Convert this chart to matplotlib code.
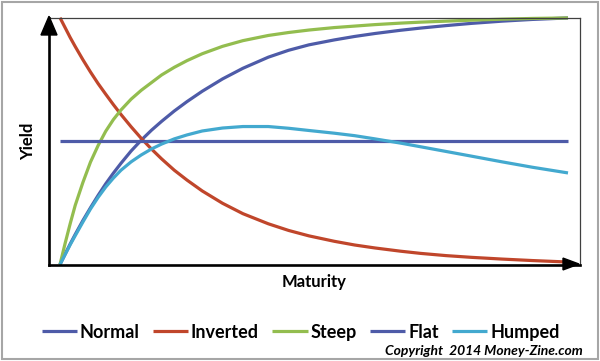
import matplotlib.pyplot as plt
from matplotlib.patches import Polygon, Rectangle

# maturity (arbitrary units) and yield values
maturity = [0, 0.1, 0.2, 0.3, 0.45, 0.6, 0.75, 0.9, 1.05, 1.2, 1.4, 1.6, 1.8, 2.0, 2.25, 2.5,
            2.8, 3.2, 3.6, 4.1, 4.5, 4.9, 5.4, 5.8, 6.2, 6.7, 7.1, 7.6, 8.1, 8.7, 9.3, 10]
normal   = [0, 0.42, 0.83, 1.22, 1.78, 2.30, 2.80, 3.27, 3.70, 4.10, 4.60, 5.04, 5.44, 5.80, 6.22, 6.60,
            7.02, 7.52, 7.95, 8.40, 8.68, 8.90, 9.10, 9.24, 9.36, 9.49, 9.58, 9.68, 9.77, 9.86, 9.93, 9.99]
inverted = [10.0, 9.60, 9.20, 8.83, 8.30, 7.80, 7.33, 6.90, 6.48, 6.08, 5.58, 5.11, 4.68, 4.28, 3.82, 3.42,
            2.98, 2.48, 2.06, 1.65, 1.38, 1.16, 0.94, 0.79, 0.67, 0.54, 0.45, 0.36, 0.29, 0.22, 0.16, 0.10]
steep    = [0, 0.85, 1.65, 2.40, 3.32, 4.15, 4.82, 5.40, 5.87, 6.26, 6.70, 7.06, 7.37, 7.68, 7.99, 8.26,
            8.54, 8.84, 9.07, 9.28, 9.40, 9.50, 9.60, 9.66, 9.72, 9.78, 9.82, 9.86, 9.90, 9.94, 9.97, 9.99]
flat     = [5.0] * len(maturity)
humped   = [0, 0.40, 0.80, 1.17, 1.72, 2.25, 2.72, 3.14, 3.50, 3.82, 4.16, 4.44, 4.68, 4.88, 5.09, 5.25,
            5.41, 5.53, 5.59, 5.59, 5.52, 5.43, 5.32, 5.22, 5.09, 4.92, 4.77, 4.58, 4.39, 4.16, 3.94, 3.71]

series = [
    ("Normal", normal, "#4E5BA8"),
    ("Inverted", inverted, "#C0462B"),
    ("Steep", steep, "#93BD4F"),
    ("Flat", flat, "#4E5BA8"),
    ("Humped", humped, "#43A9CF"),
]

plt.rcParams["font.family"] = ["Lato", "DejaVu Sans"]

fig = plt.figure(figsize=(6, 3.61), dpi=100)
fig.patches.append(Rectangle((0.004, 0.005), 0.992, 0.99, transform=fig.transFigure,
                             fill=False, edgecolor="#A6A6A6", linewidth=1.5))

ax = fig.add_axes([49 / 600, 96.5 / 361, 531 / 600, 246.8 / 361])
for name, vals, col in series:
    ax.plot(maturity, vals, color=col, linewidth=2.3, label=name, clip_on=False,
            solid_capstyle="butt", solid_joinstyle="round")

ax.set_xlim(-0.2165, 10.236)
ax.set_ylim(0, 10)
ax.set_xticks([])
ax.set_yticks([])

ax.spines["left"].set_linewidth(1.9)
ax.spines["bottom"].set_linewidth(1.9)
ax.spines["left"].set_color("black")
ax.spines["bottom"].set_color("black")
ax.spines["top"].set_linewidth(0.9)
ax.spines["right"].set_linewidth(0.9)
ax.spines["top"].set_color("#404040")
ax.spines["right"].set_color("#404040")

# arrow heads on the axes
ax.add_patch(Polygon([[0, 1.006], [-0.0151, 0.93], [0.0151, 0.93]], closed=True,
                     transform=ax.transAxes, color="black", clip_on=False, zorder=5))
ax.add_patch(Polygon([[0.998, 0.002], [0.968, 0.026], [0.968, -0.022]], closed=True,
                     transform=ax.transAxes, color="black", clip_on=False, zorder=5))

ax.set_xlabel("Maturity", fontsize=12, fontweight="bold", labelpad=7)
ax.set_ylabel("Yield", fontsize=12, fontweight="bold", labelpad=9)

fig.legend(loc="center", bbox_to_anchor=(0.501, 0.080), ncol=5, frameon=False,
           prop={"weight": "bold", "size": 13}, handlelength=1.95, handletextpad=0.15,
           columnspacing=0.75)

fig.text(0.972, 0.028, "Copyright  2014 Money-Zine.com", ha="right", va="center",
         fontsize=10, fontweight="bold", style="italic")

fig.savefig("out.png", dpi=100)
